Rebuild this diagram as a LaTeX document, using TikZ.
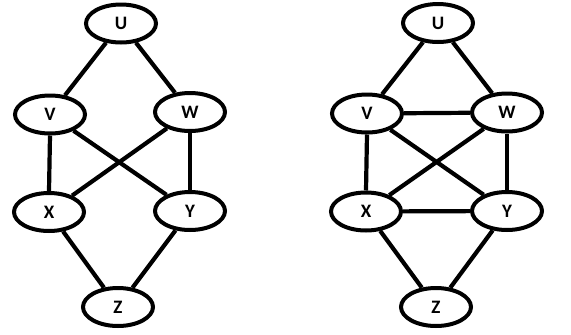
\documentclass[tikz,border=0pt]{standalone}
\usepackage{fontspec}
\setmainfont{Carlito}
\usetikzlibrary{shapes.geometric}
\begin{document}
\begin{tikzpicture}[x=1pt,y=-1pt,
  vtx/.style={draw=black,ellipse,line width=4pt,minimum width=70pt,minimum height=38pt,inner sep=0pt,font=\fontsize{19}{19}\selectfont\bfseries},
  edge/.style={line width=4.2pt,black}]
\useasboundingbox (0,0) rectangle (571,335);
% left graph
\node[vtx] (U1) at (121,23.5) {U};
\node[vtx] (V1) at (50,114.5) {V};
\node[vtx] (W1) at (190,112) {W};
\node[vtx] (X1) at (49,212) {X};
\node[vtx] (Y1) at (190,211) {Y};
\node[vtx] (Z1) at (118,307) {Z};
\draw[edge] (U1) -- (V1);
\draw[edge] (U1) -- (W1);
\draw[edge] (V1.south) -- (X1.north);
\draw[edge] (W1.south) -- (Y1.north);
\draw[edge] (V1) -- (Y1);
\draw[edge] (W1) -- (X1);
\draw[edge] (X1) -- (Z1);
\draw[edge] (Y1) -- (Z1);
% right graph
\node[vtx] (U2) at (438,23) {U};
\node[vtx] (V2) at (367,113.5) {V};
\node[vtx] (W2) at (507,112.5) {W};
\node[vtx] (X2) at (366,211.5) {X};
\node[vtx] (Y2) at (507,211) {Y};
\node[vtx] (Z2) at (436,307) {Z};
\draw[edge] (U2) -- (V2);
\draw[edge] (U2) -- (W2);
\draw[edge] (V2) -- (W2);
\draw[edge] (X2) -- (Y2);
\draw[edge] (V2.south) -- (X2.north);
\draw[edge] (W2.south) -- (Y2.north);
\draw[edge] (V2) -- (Y2);
\draw[edge] (W2) -- (X2);
\draw[edge] (X2) -- (Z2);
\draw[edge] (Y2) -- (Z2);
\end{tikzpicture}
\end{document}
